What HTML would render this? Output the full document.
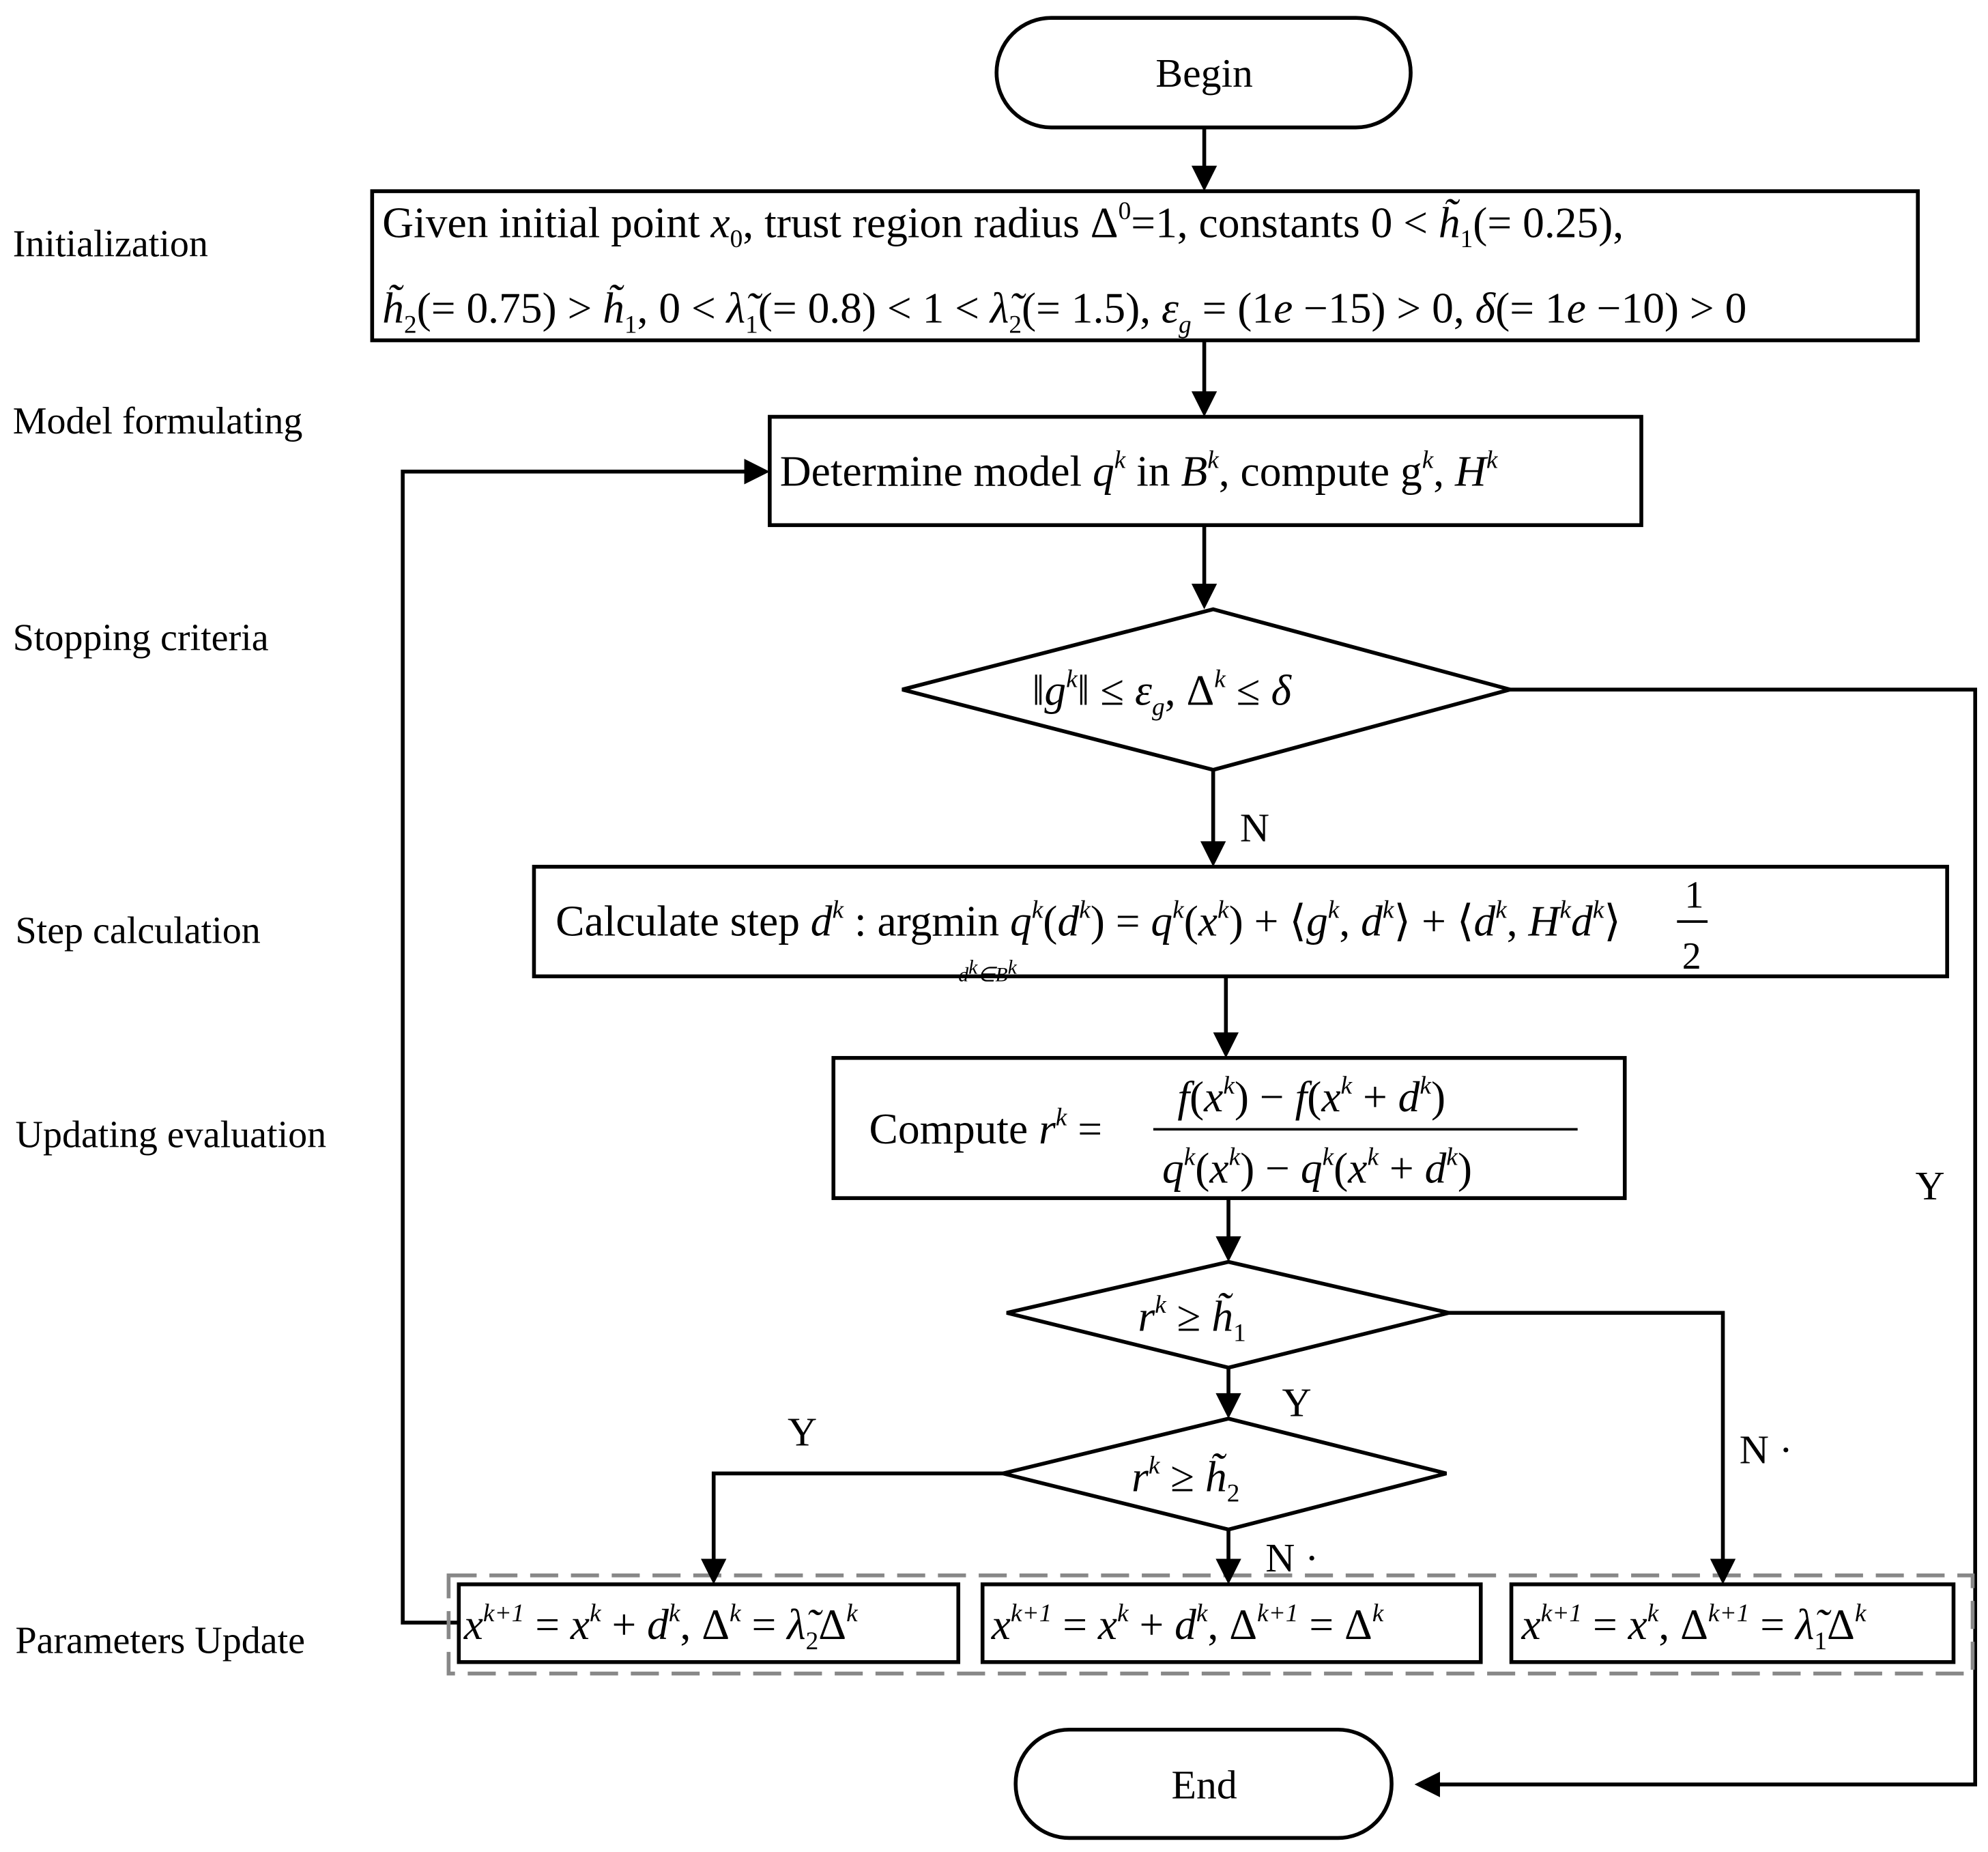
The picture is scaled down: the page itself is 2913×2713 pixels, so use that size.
<!DOCTYPE html>
<html><head><meta charset="utf-8"><style>
html,body{margin:0;padding:0;background:#fff;}
svg{display:block;}
text{font-family:"Liberation Serif",serif;fill:#000;}
.i{font-style:italic;}
</style></head><body>
<svg width="2913" height="2713" viewBox="0 0 1560 1453" xmlns="http://www.w3.org/2000/svg">
<defs><marker id="a" markerWidth="10" markerHeight="10" refX="9" refY="5" orient="auto" markerUnits="userSpaceOnUse"><path d="M0,0 L0,0" /></marker></defs>
<g fill="none" stroke="#000" stroke-width="3">
<rect x="782" y="14" width="325" height="86" rx="43"/>
<rect x="292" y="150" width="1213" height="117"/>
<rect x="604" y="327" width="684" height="85"/>
<polygon points="708,541 952,478 1185,541 952,604"/>
<rect x="419" y="680" width="1109" height="86"/>
<rect x="654" y="830" width="621" height="110"/>
<polygon points="790,1030 964,990 1137,1030 964,1073"/>
<polygon points="787,1156 964,1113 1135,1156 964,1200"/>
<rect x="360" y="1243" width="392" height="61"/>
<rect x="771" y="1243" width="391" height="61"/>
<rect x="1186" y="1243" width="347" height="61"/>
<rect x="797" y="1357" width="295" height="85" rx="42"/>
<line x1="945" y1="100" x2="945" y2="132"/>
<line x1="945" y1="267" x2="945" y2="309"/>
<line x1="945" y1="412" x2="945" y2="460"/>
<line x1="952" y1="604" x2="952" y2="662"/>
<line x1="962" y1="766" x2="962" y2="812"/>
<line x1="964" y1="940" x2="964" y2="972"/>
<line x1="964" y1="1073" x2="964" y2="1095"/>
<line x1="964" y1="1200" x2="964" y2="1225"/>
<polyline points="1185,541 1550,541 1550,1400 1128,1400"/>
<polyline points="1137,1030 1352,1030 1352,1225"/>
<polyline points="787,1156 560,1156 560,1225"/>
<polyline points="360,1273 316,1273 316,370 586,370"/>
</g>
<rect x="352" y="1236" width="1196" height="77" fill="none" stroke="#888" stroke-width="3" stroke-dasharray="22,10"/>
<g fill="#000">
<polygon points="935,130 955,130 945,150"/>
<polygon points="935,307 955,307 945,327"/>
<polygon points="935,458 955,458 945,478"/>
<polygon points="942,660 962,660 952,680"/>
<polygon points="952,810 972,810 962,830"/>
<polygon points="954,970 974,970 964,990"/>
<polygon points="954,1093 974,1093 964,1113"/>
<polygon points="954,1223 974,1223 964,1243"/>
<polygon points="1342,1223 1362,1223 1352,1243"/>
<polygon points="550,1223 570,1223 560,1243"/>
<polygon points="584,360 584,380 604,370"/>
<polygon points="1130,1390 1130,1410 1110,1400"/>
</g>
<g font-size="30">
<text x="10" y="201">Initialization</text>
<text x="10" y="340">Model formulating</text>
<text x="10" y="510">Stopping criteria</text>
<text x="12" y="740">Step calculation</text>
<text x="12" y="900">Updating evaluation</text>
<text x="12" y="1297">Parameters Update</text>
</g>
<g font-size="32">
<text x="945" y="68" text-anchor="middle">Begin</text>
<text x="945" y="1411" text-anchor="middle">End</text>
<text x="973" y="660">N</text>
<text x="1503" y="941">Y</text>
<text x="1006" y="1111">Y</text>
<text x="618" y="1134">Y</text>
<text x="1365" y="1148">N ·</text>
<text x="993" y="1233">N ·</text>
</g>
<g font-size="34">
<text x="300" y="186">Given initial point <tspan class="i">x</tspan><tspan font-size="20" dy="8">0</tspan><tspan dy="-8">, trust region radius Δ</tspan><tspan font-size="20" dy="-14">0</tspan><tspan dy="14">=1, constants 0 &lt; </tspan><tspan class="i">h̃</tspan><tspan font-size="20" dy="8">1</tspan><tspan dy="-8">(= 0.25),</tspan></text>
<text x="300" y="253"><tspan class="i">h̃</tspan><tspan font-size="20" dy="8">2</tspan><tspan dy="-8">(= 0.75) &gt; </tspan><tspan class="i">h̃</tspan><tspan font-size="20" dy="8">1</tspan><tspan dy="-8">, 0 &lt; </tspan><tspan class="i">λ̃</tspan><tspan font-size="20" dy="8">1</tspan><tspan dy="-8">(= 0.8) &lt; 1 &lt; </tspan><tspan class="i">λ̃</tspan><tspan font-size="20" dy="8">2</tspan><tspan dy="-8">(= 1.5), </tspan><tspan class="i">ε</tspan><tspan class="i" font-size="20" dy="8">g</tspan><tspan dy="-8"> = (1</tspan><tspan class="i">e</tspan> −15) &gt; 0, <tspan class="i">δ</tspan>(= 1<tspan class="i">e</tspan> −10) &gt; 0</text>
<text x="612" y="381">Determine model <tspan class="i">q</tspan><tspan class="i" font-size="20" dy="-14">k</tspan><tspan dy="14"> in </tspan><tspan class="i">B</tspan><tspan class="i" font-size="20" dy="-14">k</tspan><tspan dy="14">,  compute g</tspan><tspan class="i" font-size="20" dy="-14">k</tspan><tspan dy="14">, </tspan><tspan class="i">H</tspan><tspan class="i" font-size="20" dy="-14">k</tspan></text>
<text x="810" y="553">‖<tspan class="i">g</tspan><tspan class="i" font-size="20" dy="-14">k</tspan><tspan dy="14">‖ ≤ </tspan><tspan class="i">ε</tspan><tspan class="i" font-size="20" dy="8">g</tspan><tspan dy="-8">, Δ</tspan><tspan class="i" font-size="20" dy="-14">k</tspan><tspan dy="14"> ≤ </tspan><tspan class="i">δ</tspan></text>
<text x="436" y="734">Calculate step <tspan class="i">d</tspan><tspan class="i" font-size="20" dy="-14">k</tspan><tspan dy="14"> : argmin  </tspan><tspan class="i">q</tspan><tspan class="i" font-size="20" dy="-14">k</tspan><tspan dy="14">(</tspan><tspan class="i">d</tspan><tspan class="i" font-size="20" dy="-14">k</tspan><tspan dy="14">) = </tspan><tspan class="i">q</tspan><tspan class="i" font-size="20" dy="-14">k</tspan><tspan dy="14">(</tspan><tspan class="i">x</tspan><tspan class="i" font-size="20" dy="-14">k</tspan><tspan dy="14">) + ⟨</tspan><tspan class="i">g</tspan><tspan class="i" font-size="20" dy="-14">k</tspan><tspan dy="14">, </tspan><tspan class="i">d</tspan><tspan class="i" font-size="20" dy="-14">k</tspan><tspan dy="14">⟩ +    ⟨</tspan><tspan class="i">d</tspan><tspan class="i" font-size="20" dy="-14">k</tspan><tspan dy="14">, </tspan><tspan class="i">H</tspan><tspan class="i" font-size="20" dy="-14">k</tspan><tspan class="i" dy="14">d</tspan><tspan class="i" font-size="20" dy="-14">k</tspan><tspan dy="14">⟩</tspan></text>
<text x="1322" y="712" font-size="30">1</text>
<line x1="1316" y1="723" x2="1340" y2="723" stroke="#000" stroke-width="2"/>
<text x="1320" y="760" font-size="30">2</text>
<text x="752" y="770" font-size="16" class="i">d<tspan dy="-6">k</tspan><tspan dy="6">∈B</tspan><tspan dy="-6">k</tspan></text>
<text x="682" y="897">Compute <tspan class="i">r</tspan><tspan class="i" font-size="20" dy="-14">k</tspan><tspan dy="14"> =</tspan></text>
<line x1="905" y1="886" x2="1238" y2="886" stroke="#000" stroke-width="2"/>
<text x="924" y="872"><tspan class="i">f</tspan>(<tspan class="i">x</tspan><tspan class="i" font-size="20" dy="-14">k</tspan><tspan dy="14">) − </tspan><tspan class="i">f</tspan>(<tspan class="i">x</tspan><tspan class="i" font-size="20" dy="-14">k</tspan><tspan dy="14"> + </tspan><tspan class="i">d</tspan><tspan class="i" font-size="20" dy="-14">k</tspan><tspan dy="14">)</tspan></text>
<text x="912" y="928"><tspan class="i">q</tspan><tspan class="i" font-size="20" dy="-14">k</tspan><tspan dy="14">(</tspan><tspan class="i">x</tspan><tspan class="i" font-size="20" dy="-14">k</tspan><tspan dy="14">) − </tspan><tspan class="i">q</tspan><tspan class="i" font-size="20" dy="-14">k</tspan><tspan dy="14">(</tspan><tspan class="i">x</tspan><tspan class="i" font-size="20" dy="-14">k</tspan><tspan dy="14"> + </tspan><tspan class="i">d</tspan><tspan class="i" font-size="20" dy="-14">k</tspan><tspan dy="14">)</tspan></text>
<text x="893" y="1044"><tspan class="i">r</tspan><tspan class="i" font-size="20" dy="-14">k</tspan><tspan dy="14"> ≥ </tspan><tspan class="i">h̃</tspan><tspan font-size="20" dy="8">1</tspan></text>
<text x="888" y="1170"><tspan class="i">r</tspan><tspan class="i" font-size="20" dy="-14">k</tspan><tspan dy="14"> ≥ </tspan><tspan class="i">h̃</tspan><tspan font-size="20" dy="8">2</tspan></text>
<text x="364" y="1286"><tspan class="i">x</tspan><tspan class="i" font-size="20" dy="-14">k+1</tspan><tspan dy="14"> = </tspan><tspan class="i">x</tspan><tspan class="i" font-size="20" dy="-14">k</tspan><tspan dy="14"> + </tspan><tspan class="i">d</tspan><tspan class="i" font-size="20" dy="-14">k</tspan><tspan dy="14">, Δ</tspan><tspan class="i" font-size="20" dy="-14">k</tspan><tspan dy="14"> = </tspan><tspan class="i">λ̃</tspan><tspan font-size="20" dy="8">2</tspan><tspan dy="-8">Δ</tspan><tspan class="i" font-size="20" dy="-14">k</tspan></text>
<text x="778" y="1286"><tspan class="i">x</tspan><tspan class="i" font-size="20" dy="-14">k+1</tspan><tspan dy="14"> = </tspan><tspan class="i">x</tspan><tspan class="i" font-size="20" dy="-14">k</tspan><tspan dy="14"> + </tspan><tspan class="i">d</tspan><tspan class="i" font-size="20" dy="-14">k</tspan><tspan dy="14">, Δ</tspan><tspan class="i" font-size="20" dy="-14">k+1</tspan><tspan dy="14"> = Δ</tspan><tspan class="i" font-size="20" dy="-14">k</tspan></text>
<text x="1194" y="1286"><tspan class="i">x</tspan><tspan class="i" font-size="20" dy="-14">k+1</tspan><tspan dy="14"> = </tspan><tspan class="i">x</tspan><tspan class="i" font-size="20" dy="-14">k</tspan><tspan dy="14">, Δ</tspan><tspan class="i" font-size="20" dy="-14">k+1</tspan><tspan dy="14"> = </tspan><tspan class="i">λ̃</tspan><tspan font-size="20" dy="8">1</tspan><tspan dy="-8">Δ</tspan><tspan class="i" font-size="20" dy="-14">k</tspan></text>
</g>
</svg>
</body></html>
